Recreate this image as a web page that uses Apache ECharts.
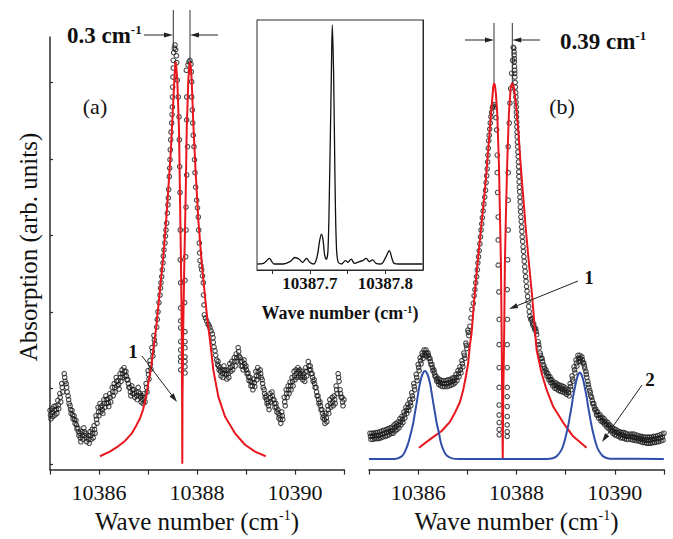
<!DOCTYPE html>
<html><head><meta charset="utf-8">
<script src="https://cdn.jsdelivr.net/npm/echarts@6/dist/echarts.min.js"></script>
<style>html,body{margin:0;padding:0;background:#fff}#c{width:673px;height:539px}</style>
</head><body><div id="c"></div>
<script>
// ---------- tick values / labels ----------
const mainTicks = [10385,10386,10387,10388,10389,10390,10391];
const mainTickLabels = [10386,10388,10390];
const yTicksMain = [0,1,2,3,4,5];
const insetTicks = [10387.65,10387.7,10387.75,10387.8];
const insetTickLabels = [10387.7,10387.8];
const yTicksInset = [0,1,2,3,4,5,6];

// ---------- panel (a): measured points [wavenumber, absorption] ----------
const measuredA = [
[10385.00,0.71],[10385.02,0.60],[10385.04,0.73],[10385.06,0.63],[10385.08,0.76],[10385.10,0.65],[10385.12,0.77],[10385.14,0.67],[10385.16,0.84],[10385.18,0.73],[10385.20,0.93],[10385.22,0.82],[10385.24,1.06],[10385.26,0.95],[10385.29,1.19],[10385.31,1.09],[10385.33,1.06],[10385.35,0.95],[10385.37,0.90],[10385.39,0.80],[10385.41,0.77],[10385.43,0.67],[10385.45,0.71],[10385.47,0.60],[10385.49,0.64],[10385.51,0.54],[10385.53,0.58],[10385.55,0.47],[10385.57,0.48],[10385.59,0.38],[10385.61,0.41],[10385.63,0.30],[10385.65,0.43],[10385.67,0.33],[10385.69,0.48],[10385.71,0.38],[10385.73,0.41],[10385.75,0.30],[10385.78,0.38],[10385.80,0.28],[10385.82,0.43],[10385.84,0.33],[10385.86,0.46],[10385.88,0.35],[10385.90,0.51],[10385.92,0.41],[10385.94,0.64],[10385.96,0.54],[10385.98,0.75],[10386.00,0.64],
[10386.02,0.80],[10386.04,0.69],[10386.06,0.77],[10386.08,0.67],[10386.10,0.85],[10386.12,0.75],[10386.14,0.90],[10386.16,0.80],[10386.18,0.86],[10386.20,0.76],[10386.22,0.93],[10386.24,0.82],[10386.27,1.01],[10386.29,0.90],[10386.31,1.06],[10386.33,0.95],[10386.35,1.14],[10386.37,1.03],[10386.39,1.10],[10386.41,0.99],[10386.43,1.19],[10386.45,1.09],[10386.47,1.24],[10386.49,1.14],[10386.51,1.27],[10386.53,1.16],[10386.55,1.22],[10386.57,1.11],[10386.59,1.11],[10386.61,1.01],[10386.63,1.01],[10386.65,0.90],[10386.67,1.03],[10386.69,0.93],[10386.71,0.98],[10386.73,0.88],[10386.76,0.95],[10386.78,0.85],[10386.80,1.01],[10386.82,0.90],[10386.84,0.93],[10386.86,0.82],[10386.88,0.90],[10386.90,0.80],[10386.92,0.93],[10386.94,0.82],[10386.96,1.06],[10386.98,0.95],
[10387.00,1.23],[10387.02,1.12],[10387.04,1.36],[10387.06,1.25],[10387.08,1.53],[10387.10,1.42],[10387.12,1.69],[10387.14,1.58],
[10385.01,0.65],[10385.05,0.68],[10385.09,0.71],[10385.13,0.72],[10385.17,0.78],[10385.21,0.88],[10385.25,1.01],[10385.30,1.14],[10385.34,1.01],[10385.38,0.85],[10385.42,0.72],[10385.46,0.65],[10385.50,0.59],[10385.54,0.52],[10385.58,0.43],[10385.62,0.35],[10385.66,0.38],[10385.70,0.43],[10385.74,0.35],[10385.79,0.33],[10385.83,0.38],[10385.87,0.41],[10385.91,0.46],[10385.95,0.59],[10385.99,0.69],[10386.03,0.75],[10386.07,0.72],[10386.11,0.80],[10386.15,0.85],[10386.19,0.81],[10386.23,0.88],[10386.28,0.95],[10386.32,1.01],[10386.36,1.09],[10386.40,1.05],[10386.44,1.14],[10386.48,1.19],[10386.52,1.22],[10386.56,1.16],[10386.60,1.06],[10386.64,0.95],[10386.68,0.98],[10386.72,0.93],[10386.77,0.90],[10386.81,0.95],[10386.85,0.88],[10386.89,0.85],[10386.93,0.88],[10386.97,1.01],[10387.01,1.18],[10387.05,1.31],[10387.09,1.48],[10387.13,1.63],
[10387.178,1.80],[10387.190,1.90],[10387.204,2.00],[10387.224,2.12],[10387.245,2.22],[10387.255,2.31],[10387.265,2.38],[10387.280,2.46],[10387.292,2.55],[10387.306,2.64],[10387.312,2.73],[10387.327,2.81],[10387.347,2.90],[10387.357,2.99],[10387.367,3.07],[10387.382,3.16],[10387.394,3.29],[10387.408,3.40],[10387.414,3.49],[10387.422,3.60],[10387.435,3.77],[10387.443,3.88],[10387.449,3.99],[10387.455,4.12],[10387.463,4.25],[10387.469,4.35],[10387.484,4.47],[10387.490,4.58],[10387.496,4.68],[10387.500,4.81],[10387.504,4.94],[10387.510,5.07],[10387.516,5.19],[10387.516,5.29],[10387.524,5.39],[10387.537,5.45],[10387.551,5.49],[10387.565,5.43],[10387.578,5.35],[10387.586,5.26],
[10387.598,5.03],[10387.618,4.81],[10387.633,4.55],[10387.639,4.25],[10387.647,3.90],[10387.653,3.56],[10387.659,3.07],[10387.659,2.68],[10387.667,2.38],[10387.667,2.05],[10387.667,1.88],[10387.667,1.79],[10387.667,1.61],[10387.667,1.50],[10387.667,1.41],[10387.667,1.35],[10387.667,1.24],
[10387.755,1.20],[10387.755,1.28],[10387.755,1.35],[10387.755,1.41],[10387.755,1.53],[10387.755,1.61],[10387.755,1.74],[10387.749,2.12],[10387.755,2.41],[10387.769,2.72],[10387.776,3.07],[10387.776,3.37],[10387.790,3.79],[10387.806,4.16],[10387.790,4.51],[10387.790,4.81],[10387.782,5.16],
[10387.816,5.23],[10387.837,5.27],[10387.857,5.29],[10387.878,5.24],[10387.884,5.14],[10387.892,5.01],[10387.892,4.81],[10387.904,4.64],[10387.912,4.47],[10387.924,4.31],[10387.939,4.16],[10387.949,3.99],[10387.959,3.82],[10387.973,3.63],[10387.994,3.46],[10388.010,3.36],[10388.027,3.24],[10388.035,3.07],[10388.047,2.90],[10388.055,2.77],[10388.061,2.67],[10388.082,2.60],[10388.096,2.55],[10388.112,2.47],[10388.129,2.38],[10388.133,2.22],[10388.143,2.09],[10388.149,1.96],[10388.173,1.92],[10388.198,1.88],[10388.224,1.84],[10388.245,1.82],[10388.265,1.79],[10388.286,1.75],[10388.312,1.71],[10388.327,1.66],[10388.333,1.60],[10388.347,1.54],[10388.367,1.49],[10388.382,1.43],[10388.402,1.37],[10388.418,1.31],
[10388.43,1.35],[10388.45,1.24],[10388.47,1.27],[10388.49,1.16],[10388.51,1.24],[10388.53,1.14],[10388.55,1.29],[10388.57,1.19],[10388.59,1.23],[10388.61,1.12],[10388.63,1.24],[10388.65,1.14],[10388.67,1.32],[10388.69,1.22],[10388.71,1.35],[10388.73,1.24],[10388.76,1.40],[10388.78,1.29],[10388.80,1.45],[10388.82,1.35],[10388.84,1.53],[10388.86,1.42],[10388.88,1.40],[10388.90,1.29],[10388.92,1.35],[10388.94,1.24],[10388.96,1.37],[10388.98,1.27],
[10389.00,1.29],[10389.02,1.19],[10389.04,1.20],[10389.06,1.10],[10389.08,1.14],[10389.10,1.03],[10389.12,1.08],[10389.14,0.98],[10389.16,1.12],[10389.18,1.02],[10389.20,1.22],[10389.22,1.11],[10389.24,1.27],[10389.26,1.16],[10389.29,1.24],[10389.31,1.14],[10389.33,1.11],[10389.35,1.01],[10389.37,0.98],[10389.39,0.88],[10389.41,0.90],[10389.43,0.80],[10389.45,0.82],[10389.47,0.72],[10389.49,0.93],[10389.51,0.82],[10389.53,0.95],[10389.55,0.85],[10389.57,0.85],[10389.59,0.75],[10389.61,0.80],[10389.63,0.69],[10389.65,0.72],[10389.67,0.61],[10389.69,0.64],[10389.71,0.54],[10389.73,0.69],[10389.75,0.59],[10389.78,0.88],[10389.80,0.77],[10389.82,0.98],[10389.84,0.88],[10389.86,1.03],[10389.88,0.93],[10389.90,1.08],[10389.92,0.98],[10389.94,1.14],[10389.96,1.03],[10389.98,1.22],
[10390.00,1.11],[10390.02,1.24],[10390.04,1.14],[10390.06,1.27],[10390.08,1.16],[10390.10,1.24],[10390.12,1.14],[10390.14,1.22],[10390.16,1.11],[10390.18,1.19],[10390.20,1.09],[10390.22,1.27],[10390.24,1.16],[10390.27,1.35],[10390.29,1.24],[10390.31,1.29],[10390.33,1.19],[10390.35,1.19],[10390.37,1.09],[10390.39,1.11],[10390.41,1.01],[10390.43,1.01],[10390.45,0.90],[10390.47,0.90],[10390.49,0.80],[10390.51,0.82],[10390.53,0.72],[10390.55,0.72],[10390.57,0.61],[10390.59,0.64],[10390.61,0.54],[10390.63,0.67],[10390.65,0.56],[10390.67,0.77],[10390.69,0.67],[10390.71,0.85],[10390.73,0.75],[10390.76,0.88],[10390.78,0.77],[10390.80,0.90],[10390.82,0.80],[10390.84,1.03],[10390.86,0.93],[10390.88,1.19],[10390.90,1.09],[10390.92,0.98],[10390.94,0.88],[10390.96,0.88],[10390.98,0.77],[10391.00,0.85],
[10388.44,1.29],[10388.48,1.22],[10388.52,1.19],[10388.56,1.24],[10388.60,1.18],[10388.64,1.19],[10388.68,1.27],[10388.72,1.29],[10388.77,1.35],[10388.81,1.40],[10388.85,1.48],[10388.89,1.35],[10388.93,1.29],[10388.97,1.32],[10389.01,1.24],[10389.05,1.15],[10389.09,1.09],[10389.13,1.03],[10389.17,1.07],[10389.21,1.16],[10389.25,1.22],[10389.30,1.19],[10389.34,1.06],[10389.38,0.93],[10389.42,0.85],[10389.46,0.77],[10389.50,0.88],[10389.54,0.90],[10389.58,0.80],[10389.62,0.75],[10389.66,0.67],[10389.70,0.59],[10389.74,0.64],[10389.79,0.82],[10389.83,0.93],[10389.87,0.98],[10389.91,1.03],[10389.95,1.09],[10389.99,1.16],[10390.03,1.19],[10390.07,1.22],[10390.11,1.19],[10390.15,1.16],[10390.19,1.14],[10390.23,1.22],[10390.28,1.29],[10390.32,1.24],[10390.36,1.14],[10390.40,1.06],[10390.44,0.95],[10390.48,0.85],[10390.52,0.77],[10390.56,0.67],[10390.60,0.59],[10390.64,0.61],[10390.68,0.72],[10390.72,0.80],[10390.77,0.82],[10390.81,0.85],[10390.85,0.98],[10390.89,1.14],[10390.93,0.93],[10390.97,0.82]
];

// ---------- panel (a): fitted profile (red) ----------
const fitA = [
[10386.02,0.11],[10386.22,0.17],[10386.39,0.24],[10386.53,0.31],[10386.67,0.41],[10386.76,0.51],[10386.84,0.61],[10386.90,0.72],[10386.94,0.83],[10386.98,0.95],[10387.006,1.07],[10387.041,1.19],[10387.061,1.26],[10387.108,1.50],[10387.163,1.77],[10387.178,1.86],[10387.245,2.29],[10387.312,2.72],[10387.367,3.16],[10387.414,3.60],[10387.463,4.08],[10387.504,4.60],[10387.537,5.03],[10387.553,5.20],[10387.565,5.27],[10387.577,5.20],[10387.598,5.03],[10387.633,4.38],[10387.653,3.51],[10387.673,2.64],[10387.688,1.81],[10387.696,0.85],[10387.700,0.01],[10387.704,0.85],[10387.720,1.81],[10387.741,2.64],[10387.769,3.51],[10387.790,4.38],[10387.822,5.03],[10387.841,5.20],[10387.857,5.27],[10387.873,5.20],[10387.892,5.03],[10387.924,4.47],[10387.973,3.82],[10388.027,3.20],[10388.096,2.64],[10388.163,2.20],[10388.218,1.86],[10388.265,1.63],[10388.333,1.24],[10388.435,0.89],[10388.571,0.63],[10388.776,0.41],[10388.980,0.26],[10389.184,0.17],[10389.402,0.11]
];

// ---------- panel (b): measured points ----------
const measuredB = [
[10385.02,0.41],[10385.04,0.33],[10385.06,0.41],[10385.08,0.33],[10385.10,0.41],[10385.12,0.34],[10385.14,0.42],[10385.16,0.34],[10385.18,0.42],[10385.20,0.34],[10385.22,0.43],[10385.24,0.35],[10385.26,0.44],[10385.28,0.36],[10385.30,0.45],[10385.33,0.37],[10385.35,0.46],[10385.37,0.38],[10385.39,0.47],[10385.41,0.39],[10385.43,0.48],[10385.45,0.41],[10385.47,0.49],[10385.49,0.41],[10385.51,0.52],[10385.53,0.44],[10385.55,0.54],[10385.57,0.46],[10385.59,0.56],[10385.61,0.48],[10385.63,0.60],[10385.65,0.52],[10385.67,0.63],[10385.69,0.55],[10385.71,0.69],[10385.73,0.61],[10385.75,0.75],[10385.77,0.67],[10385.79,0.79],[10385.81,0.71],[10385.83,0.85],[10385.85,0.77],[10385.87,0.94],[10385.89,0.86],[10385.91,1.06],[10385.93,0.98],[10385.96,1.18],[10385.98,1.10],
[10386.00,1.31],[10386.02,1.23],[10386.04,1.40],[10386.06,1.32],[10386.08,1.46],[10386.10,1.39],[10386.12,1.50],[10386.14,1.43],[10386.16,1.50],[10386.18,1.42],[10386.20,1.46],[10386.22,1.39],[10386.24,1.39],[10386.26,1.31],[10386.28,1.31],[10386.30,1.23],[10386.32,1.24],[10386.34,1.16],[10386.36,1.16],[10386.38,1.09],[10386.40,1.13],[10386.42,1.05],[10386.44,1.11],[10386.46,1.03],[10386.48,1.10],[10386.50,1.02],[10386.52,1.10],[10386.54,1.02],[10386.57,1.10],[10386.59,1.02],[10386.61,1.11],[10386.63,1.03],[10386.65,1.11],[10386.67,1.04],[10386.69,1.13],[10386.71,1.05],[10386.73,1.14],[10386.75,1.07],[10386.77,1.18],[10386.79,1.10],[10386.81,1.23],[10386.83,1.15],[10386.85,1.28],[10386.87,1.20],[10386.89,1.36],[10386.91,1.28],[10386.93,1.46],[10386.95,1.39],[10386.97,1.59],[10386.99,1.52],[10387.01,1.76],[10387.03,1.69],
[10385.03,0.37],[10385.07,0.37],[10385.11,0.38],[10385.15,0.38],[10385.19,0.38],[10385.23,0.39],[10385.27,0.40],[10385.31,0.41],[10385.36,0.42],[10385.40,0.43],[10385.44,0.44],[10385.48,0.45],[10385.52,0.48],[10385.56,0.50],[10385.60,0.52],[10385.64,0.56],[10385.68,0.59],[10385.72,0.65],[10385.76,0.71],[10385.80,0.75],[10385.84,0.81],[10385.88,0.90],[10385.92,1.02],[10385.97,1.14],[10386.01,1.27],[10386.05,1.36],[10386.09,1.43],[10386.13,1.46],[10386.17,1.46],[10386.21,1.43],[10386.25,1.35],[10386.29,1.27],[10386.33,1.20],[10386.37,1.12],[10386.41,1.09],[10386.45,1.07],[10386.49,1.06],[10386.53,1.06],[10386.58,1.06],[10386.62,1.07],[10386.66,1.08],[10386.70,1.09],[10386.74,1.11],[10386.78,1.14],[10386.82,1.19],[10386.86,1.24],[10386.90,1.32],[10386.94,1.43],[10386.98,1.56],[10387.02,1.73],
[10387.053,1.81],[10387.073,1.92],[10387.093,2.03],[10387.120,2.11],[10387.138,2.21],[10387.154,2.29],[10387.171,2.38],[10387.189,2.46],[10387.203,2.55],[10387.215,2.64],[10387.228,2.72],[10387.242,2.80],[10387.256,2.89],[10387.268,2.98],[10387.280,3.07],[10387.293,3.15],[10387.305,3.23],[10387.321,3.32],[10387.337,3.41],[10387.354,3.50],[10387.370,3.59],[10387.382,3.69],[10387.394,3.78],[10387.404,3.87],[10387.413,3.96],[10387.419,4.05],[10387.427,4.14],[10387.435,4.24],[10387.445,4.31],[10387.455,4.39],[10387.467,4.47],[10387.480,4.55],[10387.494,4.61],[10387.510,4.67],[10387.526,4.69],[10387.545,4.71],[10387.561,4.68],
[10387.581,4.54],[10387.596,4.38],[10387.608,4.05],[10387.608,3.82],[10387.616,3.56],[10387.628,3.24],[10387.628,2.94],[10387.628,2.61],[10387.642,2.26],[10387.648,1.90],[10387.648,1.57],[10387.648,1.27],[10387.648,1.01],[10387.648,0.78],[10387.648,0.65],[10387.648,0.55],[10387.648,0.46],[10387.648,0.39],
[10387.811,0.37],[10387.811,0.43],[10387.811,0.52],[10387.811,0.63],[10387.811,0.76],[10387.811,0.89],[10387.811,1.01],[10387.811,1.27],[10387.811,1.57],[10387.815,1.90],[10387.811,2.29],[10387.819,2.68],[10387.831,3.07],[10387.831,3.46],[10387.831,3.82],[10387.831,4.16],[10387.852,4.47],[10387.866,4.73],[10387.880,4.92],[10387.900,5.12],[10387.921,5.29],[10387.933,5.46],
[10387.947,5.45],[10387.950,5.40],[10387.953,5.36],[10387.955,5.31],[10387.957,5.27],[10387.960,5.21],[10387.963,5.16],[10387.965,5.12],[10387.967,5.07],[10387.972,5.00],[10387.978,4.94],[10387.983,4.87],[10387.988,4.81],[10387.991,4.74],[10387.994,4.68],[10387.998,4.61],[10388.002,4.55],[10388.005,4.48],[10388.008,4.42],[10388.011,4.35],[10388.014,4.29],[10388.019,4.22],[10388.024,4.16],[10388.030,4.09],[10388.035,4.03],[10388.039,3.96],[10388.043,3.90],[10388.046,3.83],[10388.049,3.77],[10388.054,3.70],[10388.059,3.63],[10388.064,3.57],[10388.069,3.50],[10388.074,3.44],[10388.079,3.37],[10388.084,3.31],[10388.089,3.24],[10388.096,3.18],[10388.104,3.11],[10388.110,3.05],[10388.116,2.98],[10388.125,2.92],[10388.134,2.85],[10388.142,2.79],[10388.150,2.72],[10388.158,2.66],[10388.167,2.59],[10388.176,2.53],[10388.185,2.46],[10388.195,2.40],[10388.205,2.33],[10388.215,2.27],[10388.226,2.20],[10388.237,2.14],[10388.248,2.07],[10388.260,2.00],[10388.272,1.94],[10388.290,1.90],
[10388.31,1.91],[10388.33,1.83],[10388.35,1.84],[10388.37,1.77],[10388.39,1.78],[10388.41,1.70],[10388.44,1.61],[10388.46,1.53],[10388.48,1.46],[10388.50,1.39],[10388.52,1.39],[10388.54,1.31],[10388.56,1.29],[10388.58,1.22],[10388.60,1.24],[10388.62,1.16],[10388.64,1.19],[10388.66,1.11],[10388.68,1.15],[10388.70,1.07],[10388.72,1.11],[10388.74,1.03],[10388.76,1.08],[10388.78,1.00],[10388.80,1.07],[10388.82,0.99],[10388.84,1.05],[10388.86,0.97],[10388.88,1.04],[10388.90,0.96],[10388.92,1.03],[10388.94,0.95],[10388.96,1.02],[10388.98,0.94],
[10389.00,1.00],[10389.02,0.92],[10389.05,0.98],[10389.07,0.90],[10389.09,1.06],[10389.11,0.98],[10389.13,1.16],[10389.15,1.09],[10389.17,1.28],[10389.19,1.20],[10389.21,1.37],[10389.23,1.29],[10389.25,1.43],[10389.27,1.35],[10389.29,1.43],[10389.31,1.35],[10389.33,1.41],[10389.35,1.33],[10389.37,1.33],[10389.39,1.26],[10389.41,1.22],[10389.43,1.14],[10389.45,1.09],[10389.47,1.01],[10389.49,0.97],[10389.51,0.90],[10389.53,0.88],[10389.55,0.80],[10389.57,0.80],[10389.59,0.72],[10389.61,0.73],[10389.63,0.65],[10389.65,0.69],[10389.67,0.61],[10389.70,0.65],[10389.72,0.57],[10389.74,0.62],[10389.76,0.55],[10389.78,0.60],[10389.80,0.52],[10389.82,0.57],[10389.84,0.49],[10389.86,0.55],[10389.88,0.47],[10389.90,0.52],[10389.92,0.44],[10389.94,0.49],[10389.96,0.41],[10389.98,0.47],
[10390.00,0.39],[10390.02,0.46],[10390.04,0.38],[10390.06,0.44],[10390.08,0.37],[10390.10,0.43],[10390.12,0.35],[10390.14,0.42],[10390.16,0.35],[10390.18,0.42],[10390.20,0.34],[10390.22,0.41],[10390.24,0.33],[10390.26,0.40],[10390.28,0.33],[10390.31,0.40],[10390.33,0.33],[10390.35,0.40],[10390.37,0.32],[10390.39,0.40],[10390.41,0.32],[10390.43,0.39],[10390.45,0.31],[10390.47,0.38],[10390.49,0.31],[10390.51,0.37],[10390.53,0.30],[10390.55,0.37],[10390.57,0.29],[10390.59,0.36],[10390.61,0.29],[10390.63,0.36],[10390.65,0.28],[10390.67,0.36],[10390.69,0.28],[10390.71,0.36],[10390.73,0.28],[10390.75,0.36],[10390.77,0.29],[10390.79,0.37],[10390.81,0.29],[10390.83,0.37],[10390.85,0.30],[10390.87,0.38],[10390.89,0.30],[10390.92,0.39],[10390.94,0.31],[10390.96,0.40],[10390.98,0.32],[10391.00,0.41],
[10388.32,1.87],[10388.36,1.80],[10388.40,1.74],[10388.45,1.57],[10388.49,1.43],[10388.53,1.35],[10388.57,1.26],[10388.61,1.20],[10388.65,1.15],[10388.69,1.11],[10388.73,1.07],[10388.77,1.04],[10388.81,1.03],[10388.85,1.01],[10388.89,1.00],[10388.93,0.99],[10388.97,0.98],[10389.01,0.96],[10389.06,0.94],[10389.10,1.02],[10389.14,1.12],[10389.18,1.24],[10389.22,1.33],[10389.26,1.39],[10389.30,1.39],[10389.34,1.37],[10389.38,1.29],[10389.42,1.18],[10389.46,1.05],[10389.50,0.94],[10389.54,0.84],[10389.58,0.76],[10389.62,0.69],[10389.66,0.65],[10389.71,0.61],[10389.75,0.58],[10389.79,0.56],[10389.83,0.53],[10389.87,0.51],[10389.91,0.48],[10389.95,0.45],[10389.99,0.43],[10390.03,0.42],[10390.07,0.41],[10390.11,0.39],[10390.15,0.39],[10390.19,0.38],[10390.23,0.37],[10390.27,0.37],[10390.32,0.37],[10390.36,0.36],[10390.40,0.36],[10390.44,0.35],[10390.48,0.34],[10390.52,0.34],[10390.56,0.33],[10390.60,0.32],[10390.64,0.32],[10390.68,0.32],[10390.72,0.32],[10390.76,0.33],[10390.80,0.33],[10390.84,0.34],[10390.88,0.34],[10390.93,0.35],[10390.97,0.36]
];

// ---------- panel (b): fitted main profile (red, curve 1) ----------
const fitB = [
[10386.016,0.22],[10386.260,0.34],[10386.478,0.44],[10386.646,0.56],[10386.748,0.68],[10386.850,0.82],[10386.917,0.98],[10386.972,1.16],[10387.018,1.33],[10387.053,1.57],[10387.087,1.72],[10387.140,2.16],[10387.185,2.48],[10387.276,3.07],[10387.358,3.59],[10387.425,4.12],[10387.480,4.58],[10387.514,4.84],[10387.528,4.95],[10387.545,4.99],[10387.562,4.96],[10387.580,4.86],[10387.608,4.60],[10387.642,3.94],[10387.663,3.29],[10387.683,2.64],[10387.697,1.76],[10387.709,0.85],[10387.720,0.08],[10387.730,0.85],[10387.750,1.76],[10387.764,2.64],[10387.785,3.29],[10387.811,3.94],[10387.846,4.60],[10387.880,4.92],[10387.897,4.97],[10387.913,4.99],[10387.930,4.97],[10387.947,4.93],[10387.988,4.73],[10388.035,4.38],[10388.083,3.94],[10388.136,3.51],[10388.191,3.07],[10388.252,2.64],[10388.319,2.20],[10388.374,1.76],[10388.409,1.50],[10388.510,1.20],[10388.612,0.98],[10388.746,0.76],[10388.949,0.55],[10389.152,0.37],[10389.425,0.22]
];

// ---------- panel (b): satellite bands (blue, curve 2) ----------
const satelliteB = [
[10385.000,0.075],[10385.528,0.075],[10385.665,0.108],[10385.732,0.170],[10385.799,0.284],[10385.854,0.418],[10385.900,0.545],[10385.935,0.680],[10385.970,0.807],[10386.002,0.941],[10386.037,1.068],[10386.083,1.176],[10386.138,1.225],[10386.193,1.176],[10386.240,1.068],[10386.274,0.941],[10386.307,0.807],[10386.341,0.680],[10386.376,0.545],[10386.423,0.414],[10386.463,0.284],[10386.524,0.176],[10386.579,0.118],[10386.687,0.082],[10386.850,0.075],
[10388.476,0.075],[10388.679,0.078],[10388.815,0.108],[10388.917,0.196],[10388.974,0.301],[10389.018,0.414],[10389.055,0.523],[10389.085,0.631],[10389.120,0.758],[10389.152,0.893],[10389.187,1.007],[10389.221,1.111],[10389.254,1.176],[10389.289,1.207],[10389.323,1.176],[10389.356,1.111],[10389.390,1.007],[10389.425,0.893],[10389.457,0.758],[10389.492,0.631],[10389.522,0.523],[10389.559,0.414],[10389.604,0.301],[10389.661,0.196],[10389.762,0.108],[10389.898,0.078],[10390.996,0.075]
];

// ---------- inset: high-resolution spectrum ----------
const insetSpectrum = [
[10387.6307,0],[10387.6386,0.02],[10387.6430,0.10],[10387.6465,0.165],[10387.6496,0.07],[10387.6526,0],[10387.6649,0],[10387.6737,0.07],[10387.6803,0.19],[10387.6860,0.14],[10387.6904,0.05],[10387.6956,0.165],[10387.7000,0.05],[10387.7053,0],[10387.7096,0.21],[10387.7132,0.70],[10387.7154,0.87],[10387.7175,0.70],[10387.7197,0.26],[10387.7219,0.14],[10387.7241,0.41],[10387.7263,2.54],[10387.7285,5.45],[10387.7298,6.95],[10387.7316,5.45],[10387.7333,2.54],[10387.7351,0.60],[10387.7373,0.07],[10387.7417,0],[10387.7474,0.10],[10387.7504,0.05],[10387.7548,0.14],[10387.7592,0.02],[10387.7658,0.07],[10387.7702,0.10],[10387.7746,0.165],[10387.7789,0.07],[10387.7833,0.12],[10387.7877,0.02],[10387.7943,0],[10387.8009,0.21],[10387.8053,0.39],[10387.8088,0.165],[10387.8118,0.02],[10387.8184,0],[10387.8491,0]
];

// ---------- chart ----------
const FONT = '"Liberation Serif","Times New Roman",serif';
const AX = '#2a2a2a';
const TXT = '#111';
const RED = '#e8161d';
const BLUE = '#2f4fa8';

function mainX(gi){
  return {
    gridIndex: gi, type: 'value', min: 10385, max: 10391, interval: 1,
    axisLine: {show: true, onZero: false, lineStyle: {color: AX, width: 1.5}},
    axisTick: {show: true, inside: false, length: 5, customValues: mainTicks, lineStyle: {color: AX, width: 1.2}},
    axisLabel: {show: true, customValues: mainTickLabels, margin: 12, fontFamily: FONT, fontSize: 22, color: TXT,
      formatter: v => (Math.round(v) % 2 === 0 ? String(Math.round(v)) : '')},
    splitLine: {show: false},
    name: '{t|Wave number (cm}{s|-1}{t|)}', nameLocation: 'middle', nameGap: 38,
    nameTextStyle: {rich: {
      t: {fontFamily: FONT, fontSize: 25, color: TXT, lineHeight: 26},
      s: {fontFamily: FONT, fontSize: 14, color: TXT, verticalAlign: 'top', lineHeight: 14}
    }}
  };
}
function mainY(gi, show){
  return {
    gridIndex: gi, type: 'value', min: -0.065, max: 5.595, show: show,
    axisLine: {show: show, onZero: false, lineStyle: {color: AX, width: 1.5}},
    axisTick: {show: show, inside: true, length: 3, customValues: yTicksMain, lineStyle: {color: AX, width: 1.2}},
    axisLabel: {show: false}, splitLine: {show: false}
  };
}
function insetY(pos){
  return {
    gridIndex: 2, type: 'value', min: -0.174, max: 7.093, position: pos,
    axisLine: {show: true, onZero: false, lineStyle: {color: AX, width: 1}},
    axisTick: {show: true, inside: true, length: 3, customValues: yTicksInset, lineStyle: {color: AX, width: 1}},
    axisLabel: {show: false}, splitLine: {show: false}
  };
}

function arrow(x1, y1, x2, y2){
  const a = Math.atan2(y2 - y1, x2 - x1), L = 9, W = 2.6;
  const bx = x2 - L * Math.cos(a), by = y2 - L * Math.sin(a);
  const px = -Math.sin(a) * W, py = Math.cos(a) * W;
  return [
    {type: 'line', shape: {x1: x1, y1: y1, x2: bx, y2: by}, style: {stroke: '#222', lineWidth: 1}, z: 100},
    {type: 'polygon', shape: {points: [[x2, y2], [bx + px, by + py], [bx - px, by - py]]}, style: {fill: '#222'}, z: 100}
  ];
}
function vline(x, y1, y2){
  return {type: 'line', shape: {x1: x, y1: y1, x2: x, y2: y2}, style: {stroke: '#333', lineWidth: 1}, z: 100};
}
function txt(x, y, text, size, weight, extra){
  return Object.assign({type: 'text', x: x, y: y, z: 100,
    style: {text: text, fontFamily: FONT, fontSize: size, fontWeight: weight, fill: TXT, align: 'center', verticalAlign: 'middle'}}, extra || {});
}
const supRich = {
  b: {fontFamily: FONT, fontSize: 23, fontWeight: 'bold', fill: TXT, lineHeight: 24},
  s: {fontFamily: FONT, fontSize: 13, fontWeight: 'bold', fill: TXT, verticalAlign: 'top', lineHeight: 13}
};

const graphics = [].concat(
  [vline(173.3, 10, 48), vline(190, 10, 62)],
  arrow(144, 35, 173, 35), arrow(218, 35, 190, 35),
  [{type: 'text', x: 67, y: 35, z: 100, style: {text: '{b|0.3 cm}{s|-1}', align: 'left', verticalAlign: 'middle', rich: supRich}}],
  [vline(494, 23, 83), vline(512.3, 23, 83)],
  arrow(465, 40, 494, 40), arrow(540, 40, 512.3, 40),
  [{type: 'text', x: 560, y: 41, z: 100, style: {text: '{b|0.39 cm}{s|-1}', align: 'left', verticalAlign: 'middle', rich: supRich}}],
  [txt(95, 106, '(a)', 22, 'normal'), txt(562, 106, '(b)', 22, 'normal')],
  [txt(133, 351, '1', 19, 'bold')], arrow(142, 356, 177, 402),
  [txt(589, 277, '1', 19, 'bold')], arrow(578, 281, 509, 309),
  [txt(650, 379, '2', 19, 'bold')], arrow(642, 385, 602, 442),
  [txt(28, 247, 'Absorption (arb. units)', 25, 'normal', {rotation: Math.PI / 2})]
);

const pointStyle = {color: 'rgba(255,255,255,0)', borderColor: '#1c1c1c', borderWidth: 1.1};

const option = {
  animation: false,
  backgroundColor: '#fff',
  textStyle: {fontFamily: FONT},
  grid: [
    {left: 50, top: 37, width: 294, height: 433},
    {left: 369, top: 37, width: 295, height: 433},
    {left: 257, top: 20, width: 166, height: 250, show: true, borderColor: AX, borderWidth: 1, backgroundColor: '#fff', z: 5}
  ],
  xAxis: [
    mainX(0), mainX(1),
    {
      gridIndex: 2, type: 'value', min: 10387.63, max: 10387.85,
      axisLine: {show: true, onZero: false, lineStyle: {color: AX, width: 1}},
      axisTick: {show: true, inside: false, length: 4, customValues: insetTicks, lineStyle: {color: AX, width: 1}},
      axisLabel: {show: true, customValues: insetTickLabels, margin: 5, fontFamily: FONT, fontSize: 17, fontWeight: 'bold', color: TXT,
        formatter: v => v.toFixed(1)},
      splitLine: {show: false},
      name: '{t|Wave number (cm}{s|-1}{t|)}', nameLocation: 'middle', nameGap: 33,
      nameTextStyle: {rich: {
        t: {fontFamily: FONT, fontSize: 18, fontWeight: 'bold', color: TXT, lineHeight: 19},
        s: {fontFamily: FONT, fontSize: 11, fontWeight: 'bold', color: TXT, verticalAlign: 'top', lineHeight: 11}
      }}
    }
  ],
  yAxis: [mainY(0, true), mainY(1, false), insetY('left'), insetY('right')],
  series: [
    {type: 'scatter', xAxisIndex: 0, yAxisIndex: 0, data: measuredA, symbol: 'circle', symbolSize: 4.5,
      itemStyle: pointStyle, z: 2},
    {type: 'line', xAxisIndex: 0, yAxisIndex: 0, data: fitA, showSymbol: false, smooth: false,
      lineStyle: {color: RED, width: 2}, z: 3},
    {type: 'scatter', xAxisIndex: 1, yAxisIndex: 1, data: measuredB, symbol: 'circle', symbolSize: 4.5,
      itemStyle: pointStyle, z: 2},
    {type: 'line', xAxisIndex: 1, yAxisIndex: 1, data: fitB, showSymbol: false, smooth: false,
      lineStyle: {color: RED, width: 2}, z: 3},
    {type: 'line', xAxisIndex: 1, yAxisIndex: 1, data: satelliteB, showSymbol: false, smooth: 0.3,
      lineStyle: {color: BLUE, width: 2}, z: 3},
    {type: 'line', xAxisIndex: 2, yAxisIndex: 2, data: insetSpectrum, showSymbol: false, smooth: 0.35,
      lineStyle: {color: '#111', width: 1.3}, z: 6}
  ],
  graphic: graphics
};

const chart = echarts.init(document.getElementById('c'), null, {renderer: 'svg'});
chart.setOption(option);
</script>
</body></html>
